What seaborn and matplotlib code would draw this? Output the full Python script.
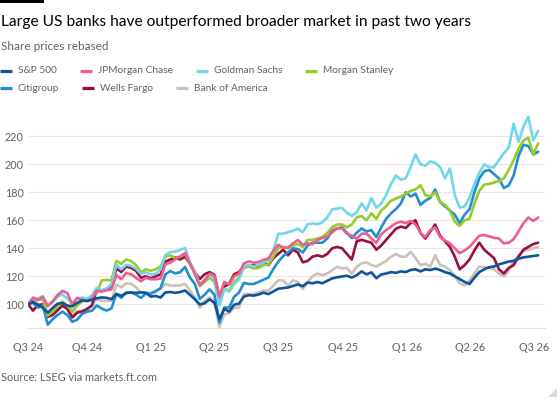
import numpy as np
import pandas as pd
import matplotlib
matplotlib.use("Agg")
import matplotlib.pyplot as plt
import matplotlib.dates as mdates
from matplotlib.lines import Line2D
from matplotlib.patches import Polygon, Rectangle
import seaborn as sns

# ---------------- data (weekly, rebased to 100) ----------------
dates = pd.date_range("2024-07-09", periods=105, freq="7D")

sp500 = [100, 101.6, 99.6, 97.5, 94, 97.4, 100.4, 100.9, 99.1, 98.5,
         101, 102.8, 102.4, 103.1, 104.3, 104.9, 104.6, 103.7, 107.3, 106.1,
         108, 108.5, 108.2, 108.5, 108.3, 105.5, 106, 104.8, 108.5, 108.8,
         108.2, 108.8, 109.9, 106.8, 103.6, 99.9, 100.7, 103.6, 101, 89.3,
         96.8, 94.8, 99.7, 100.5, 105.5, 106.5, 106.2, 107, 108.3, 107.3,
         109.2, 111.1, 111.6, 112, 113.1, 114.2, 112.9, 115.6, 115, 115.9,
         115, 116.8, 118.5, 119.3, 119.9, 120.4, 119.1, 120.8, 123.5, 121.4,
         122.8, 118.6, 121.3, 122, 123, 122.5, 123.5, 123, 124.5, 125,
         123.5, 125, 124.5, 125.5, 124.5, 123, 122, 120, 118, 116,
         114.5, 119, 123, 125, 126.5, 127, 128.5, 129.5, 130.5, 131,
         132.5, 133.5, 134, 134.5, 135]

jpmorgan = [100, 104.7, 103.2, 105.2, 98.8, 102.2, 106.6, 109.6, 108.1, 99.8,
            104.7, 103.2, 102.2, 104.2, 109.6, 109.1, 110.1, 110.6, 120.9, 117.9,
            122.4, 121.4, 118.9, 116.5, 118.9, 117.9, 117.9, 118.4, 128.7, 129.7,
            132.2, 134.2, 136.6, 129.2, 121.4, 113.5, 117, 121.9, 120.4, 105.7,
            116, 114, 119.9, 121.9, 129.2, 130.7, 129.7, 130.2, 131.7, 132.7,
            138.1, 142.5, 140.5, 140.5, 143.5, 145.9, 142.5, 143.5, 143, 145.9,
            147.4, 148.4, 151.4, 154.3, 154.3, 150.4, 148.9, 146.9, 150.4, 150.5,
            147, 144, 150, 153, 155.5, 158, 159, 158, 159.5, 157,
            151, 148, 153, 155, 148, 145.5, 143.5, 140, 136.5, 138.5,
            141, 145, 149, 149.5, 148.5, 147.5, 147, 143.5, 144, 146.5,
            152, 158, 162, 159.5, 162]

goldman = [100, 104.5, 103.8, 105.9, 98.5, 101.3, 105.5, 107, 104.2, 100.6,
           103.8, 104.9, 103.8, 106.4, 111.9, 110.2, 111, 114.4, 128.2, 125,
           128.2, 127.5, 125.4, 121.8, 122.9, 121.2, 121.8, 125, 135.2, 137.3,
           137.7, 138.8, 140.3, 130.3, 123.3, 114.4, 117.6, 120.8, 117.6, 99.2,
           110.6, 109.1, 114.4, 117.6, 127.1, 128.2, 127.1, 128.2, 129.7, 131.4,
           138.1, 150.4, 150.4, 151.5, 152.5, 154, 151.5, 157.2, 157.8, 157.2,
           158.5, 162.1, 167.8, 168.4, 168.9, 165.3, 163.1, 165.7, 172, 167,
           176, 169, 172, 178, 186, 192, 189, 190, 198, 207,
           200, 199, 202, 201, 198, 190, 197, 178, 169, 170,
           176, 186, 194, 200, 198, 198, 203, 208, 212, 229,
           216, 227, 234, 217, 224]

morgan_stanley = [100, 103, 103, 104, 92, 95, 99, 102, 99, 95,
                  99, 102, 103, 106, 108, 117, 117.5, 117, 131, 129,
                  132, 131, 128, 123, 125, 124, 125, 127, 134, 135,
                  133, 134, 136, 129, 123, 113, 116, 119, 116, 101,
                  111, 110, 116, 119, 126, 127, 125.5, 126, 128, 128.5,
                  134, 140, 141, 140, 142, 143, 141, 146, 146, 147,
                  148, 151, 155, 157, 157, 155, 157, 162, 163, 160,
                  165, 161, 167, 170, 174, 175.5, 177, 179, 181, 182,
                  185, 178, 177, 180, 173, 171, 167, 159, 156, 160,
                  161, 172, 181, 185.5, 186, 187, 188, 190, 196, 203,
                  211, 217, 219, 207, 215]

citigroup = [100, 101, 97.7, 99.2, 85.5, 89.3, 92.4, 94.7, 92.4, 87.5,
             89, 93.1, 94.7, 95.4, 99.2, 97, 95.5, 97, 107.5, 104.6,
             108.4, 108.4, 106.9, 104.6, 107.6, 107.6, 109.2, 111.5, 121.4, 123.7,
             122.1, 122.9, 126.7, 119.1, 114.5, 103.8, 106.9, 110.7, 106.9, 87,
             97.7, 97.7, 105.3, 108.4, 115.3, 114.5, 114.5, 116, 117.6, 119.1,
             125.2, 130.5, 134.4, 137, 140, 139.5, 137, 142, 144, 144,
             144, 147, 152.7, 154.2, 155, 151.1, 147.3, 151.1, 154.2, 152,
             153, 148, 155, 161, 165, 168, 172, 180, 177, 179,
             171, 174, 176, 182, 173, 170, 167, 164, 158, 164,
             168, 180, 190, 195, 196, 193, 190, 183, 185, 192,
             206, 214, 213, 207, 209]

wells_fargo = [100, 95.5, 99.5, 100, 91, 92.3, 95.7, 99.1, 96.6, 90.6,
               94, 94.9, 96.6, 99.1, 110.3, 109.4, 111.1, 112, 125.6, 123.1,
               127, 126, 124, 119, 120, 118.5, 120, 121.4, 130.5, 132,
               133.5, 132, 134, 129, 123, 118, 121.5, 123, 121, 105,
               112.8, 114.5, 121.4, 123, 127, 127, 128, 127, 129.5, 128,
               133, 136, 139, 135, 139, 137, 130, 131, 134, 135,
               134, 136, 140, 141, 140, 136, 132, 145, 146, 145,
               144, 139, 142, 146, 150, 154, 155.5, 154.5, 158, 160,
               151, 147, 152, 157, 149, 145, 141, 134, 125, 128,
               132, 138.5, 144, 139, 136, 133, 125, 122, 126, 128,
               134, 139, 141, 143, 144]

bank_of_america = [100, 104, 100, 98.3, 93, 94.5, 97, 99, 97.6, 93,
                   95, 95.1, 96.3, 98.8, 103.7, 102.4, 102.4, 102.4, 114, 112.2,
                   115, 114.6, 112.2, 108.5, 108.5, 108, 109.8, 111, 114.6, 113.4,
                   113.4, 113.4, 114.6, 109.8, 104.9, 97.6, 102.4, 104.9, 101.2, 83.7,
                   92.7, 93.9, 97.6, 97.6, 107.3, 107.3, 107.3, 108.5, 109.8, 109.8,
                   113.4, 117.1, 117.1, 113.4, 117.1, 115.9, 111, 115.9, 120, 122,
                   120.7, 122, 124.4, 126.8, 125.6, 126, 122, 126.8, 129.3, 130,
                   128, 127, 129, 131, 134, 136, 134, 134, 137.5, 133,
                   128, 129, 127, 135, 128, 127, 124.5, 120, 115, 113.5,
                   117, 122, 127, 126.5, 126, 125, 122, 120, 124, 131,
                   135, 138, 139, 140, 141]

series_names = ["S&P 500", "JPMorgan Chase", "Goldman Sachs", "Morgan Stanley",
                "Citigroup", "Wells Fargo", "Bank of America"]
series_values = [sp500, jpmorgan, goldman, morgan_stanley, citigroup,
                 wells_fargo, bank_of_america]
series_colors = ["#0f5499", "#eb5e8d", "#70d6ea", "#96cc28",
                 "#1f8ed3", "#990f3d", "#ccc1b7"]
legend_rows = [["S&P 500", "JPMorgan Chase", "Goldman Sachs", "Morgan Stanley"],
               ["Citigroup", "Wells Fargo", "Bank of America"]]

y_ticks = [100, 120, 140, 160, 180, 200, 220]
quarter_ticks = ["2024-07-09", "2024-10-01", "2025-01-01", "2025-04-01",
                 "2025-07-01", "2025-10-01", "2026-01-01", "2026-04-01",
                 "2026-07-01"]
quarter_labels = ["Q3 24", "Q4 24", "Q1 25", "Q2 25", "Q3 25", "Q4 25",
                  "Q1 26", "Q2 26", "Q3 26"]
month_ticks = list(pd.date_range("2024-08-01", "2026-06-01", freq="MS")) + \
              [pd.Timestamp("2026-07-09")]

title = "Large US banks have outperformed broader market in past two years"
subtitle = "Share prices rebased"
source = "Source: LSEG via markets.ft.com"

# ---------------- build long dataframe ----------------
frames = []
for name, vals in zip(series_names, series_values):
    frames.append(pd.DataFrame({"date": dates, "value": vals, "series": name}))
df = pd.concat(frames, ignore_index=True)

# ---------------- style ----------------
sns.set_theme(style="white")
FONT = ["Lato", "DejaVu Sans"]
plt.rcParams["font.family"] = FONT
GREY = "#66605c"
GRID = "#ebe6e1"

W, H = 560, 400
fig = plt.figure(figsize=(W / 100, H / 100), dpi=100, facecolor="white")
renderer = fig.canvas.get_renderer()


def fx(px):
    return px / W


def fy(py):
    return 1 - py / H


def fit_size(text, target_px, base=10.0):
    t = fig.text(0, 0, text, fontsize=base)
    w = t.get_window_extent(renderer).width
    t.remove()
    return base * target_px / w


ymin, ymax = 82.86, 236
ax_left, ax_right = 28.1, 545.0
ax_bottom_px = 328.3
ax_h_px = (ymax - ymin) * 1.4
ax = fig.add_axes([fx(ax_left), fy(ax_bottom_px), fx(ax_right - ax_left), ax_h_px / H])
ax.set_facecolor("white")

draw_order = list(reversed(series_names))
palette = dict(zip(series_names, series_colors))
sns.lineplot(data=df, x="date", y="value", hue="series", hue_order=draw_order,
             palette=palette, linewidth=1.9, legend=False, ax=ax,
             estimator=None, sort=True)
for ln in ax.lines:
    ln.set_solid_joinstyle("round")
    ln.set_solid_capstyle("round")

ax.set_xlim(pd.Timestamp("2024-07-09"), pd.Timestamp("2026-07-16 18:00"))
ax.set_ylim(ymin, ymax)
ax.set_xlabel("")
ax.set_ylabel("")

for s in ["top", "right", "left"]:
    ax.spines[s].set_visible(False)
ax.spines["bottom"].set_color("#e6dfd9")
ax.spines["bottom"].set_linewidth(0.8)

ax.set_yticks(y_ticks)
ax.yaxis.grid(True, color=GRID, linewidth=0.8)
ax.xaxis.grid(False)
ax.set_axisbelow(True)

tick_fs = fit_size("220", 19)
ax.set_yticklabels([str(v) for v in y_ticks])
ax.tick_params(axis="y", length=0, pad=(ax_left - 5) * 0.72, labelsize=tick_fs,
               labelcolor=GREY)
for lbl in ax.get_yticklabels():
    lbl.set_horizontalalignment("left")

ax.set_xticks([pd.Timestamp(d) for d in quarter_ticks])
ax.set_xticklabels(quarter_labels)
ax.set_xticks(month_ticks, minor=True)
xfs = fit_size("Q4 25", 30)
ax.tick_params(axis="x", which="both", direction="out", length=6.2, width=0.8,
               color="#e3dcd6", pad=4, labelsize=xfs, labelcolor=GREY)

# ---------------- header texts ----------------
fig.add_artist(Rectangle((0, fy(3.3)), fx(44), 3.3 / H, transform=fig.transFigure,
                         color="black", lw=0))
fig.text(fx(1), fy(26), title, fontsize=fit_size(title, 472), color="black",
         va="baseline", ha="left")
fig.text(fx(1), fy(50), subtitle, fontsize=fit_size(subtitle, 107), color=GREY,
         va="baseline", ha="left")

leg_fs = fit_size("JPMorgan Chase", 75)
row_y = [70.7, 88.3]
for row, yy in zip(legend_rows, row_y):
    x = 0.0
    for name in row:
        fig.add_artist(Line2D([fx(x), fx(x + 12)], [fy(yy), fy(yy)],
                              transform=fig.transFigure, color=palette[name],
                              lw=2.3, solid_capstyle="butt"))
        t = fig.text(fx(x + 18), fy(yy), name, fontsize=leg_fs, color=GREY,
                     va="center", ha="left")
        w = t.get_window_extent(renderer).width
        x = x + 18 + w + 23

fig.text(fx(1), fy(381), source, fontsize=fit_size(source, 155), color=GREY,
         va="baseline", ha="left")

fig.add_artist(Polygon([[fx(548), fy(397)], [fx(557), fy(397)], [fx(557), fy(388)]],
                       closed=True, transform=fig.transFigure,
                       color="#e2d8ce", lw=0))

fig.savefig("out.png", dpi=100, facecolor="white")
